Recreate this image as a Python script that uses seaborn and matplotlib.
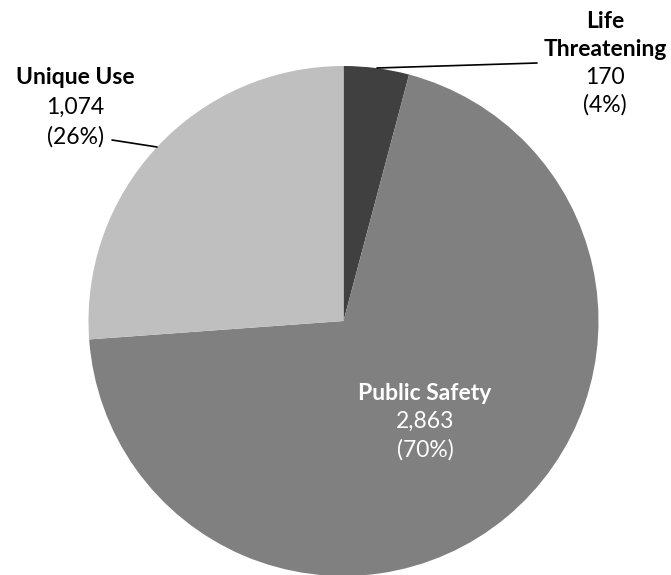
import matplotlib
matplotlib.use("Agg")
import matplotlib.pyplot as plt
import seaborn as sns

categories = ["Life\nThreatening", "Public Safety", "Unique Use"]
values = [170, 2863, 1074]
colors = ["#404040", "#808080", "#bfbfbf"]

sns.set_theme(style="white")
plt.rcParams["font.family"] = ["Lato", "DejaVu Sans"]

W, H = 671, 575
fig = plt.figure(figsize=(W / 100, H / 100), dpi=100)
cx, cy, r = 343.5, 321.0, 255.0
ax = fig.add_axes([(cx - r) / W, (H - cy - r) / H, 2 * r / W, 2 * r / H])
ax.pie(values, colors=colors, startangle=90, counterclock=False,
       wedgeprops=dict(linewidth=0))
ax.set_xlim(-1, 1)
ax.set_ylim(-1, 1)
ax.set_aspect("equal")
ax.axis("off")

total = sum(values)


def to_data(px, py):
    return (px - cx) / r, (cy - py) / r


def label(idx, px, py_top, color, spacing=28):
    name_lines = categories[idx].split("\n")
    lines = [(t, "bold") for t in name_lines]
    lines.append((f"{values[idx]:,}", "normal"))
    lines.append((f"({values[idx] / total:.0%})", "normal"))
    for i, (t, w) in enumerate(lines):
        x, y = to_data(px, py_top + i * spacing)
        ax.text(x, y, t, ha="center", va="center", fontsize=16.5,
                fontweight=w, color=color, clip_on=False)


label(0, 605, 22, "black", spacing=27.5)
label(1, 425, 393, "white", spacing=28.5)
label(2, 75, 77, "black", spacing=30)

# leader lines for the labels outside the pie
ax.plot(*zip(to_data(377, 68), to_data(537, 63)), color="black", lw=1.2,
        clip_on=False)
ax.plot(*zip(to_data(157, 147), to_data(112, 140)), color="black", lw=1.2,
        clip_on=False)

fig.savefig("out.png", dpi=100)
